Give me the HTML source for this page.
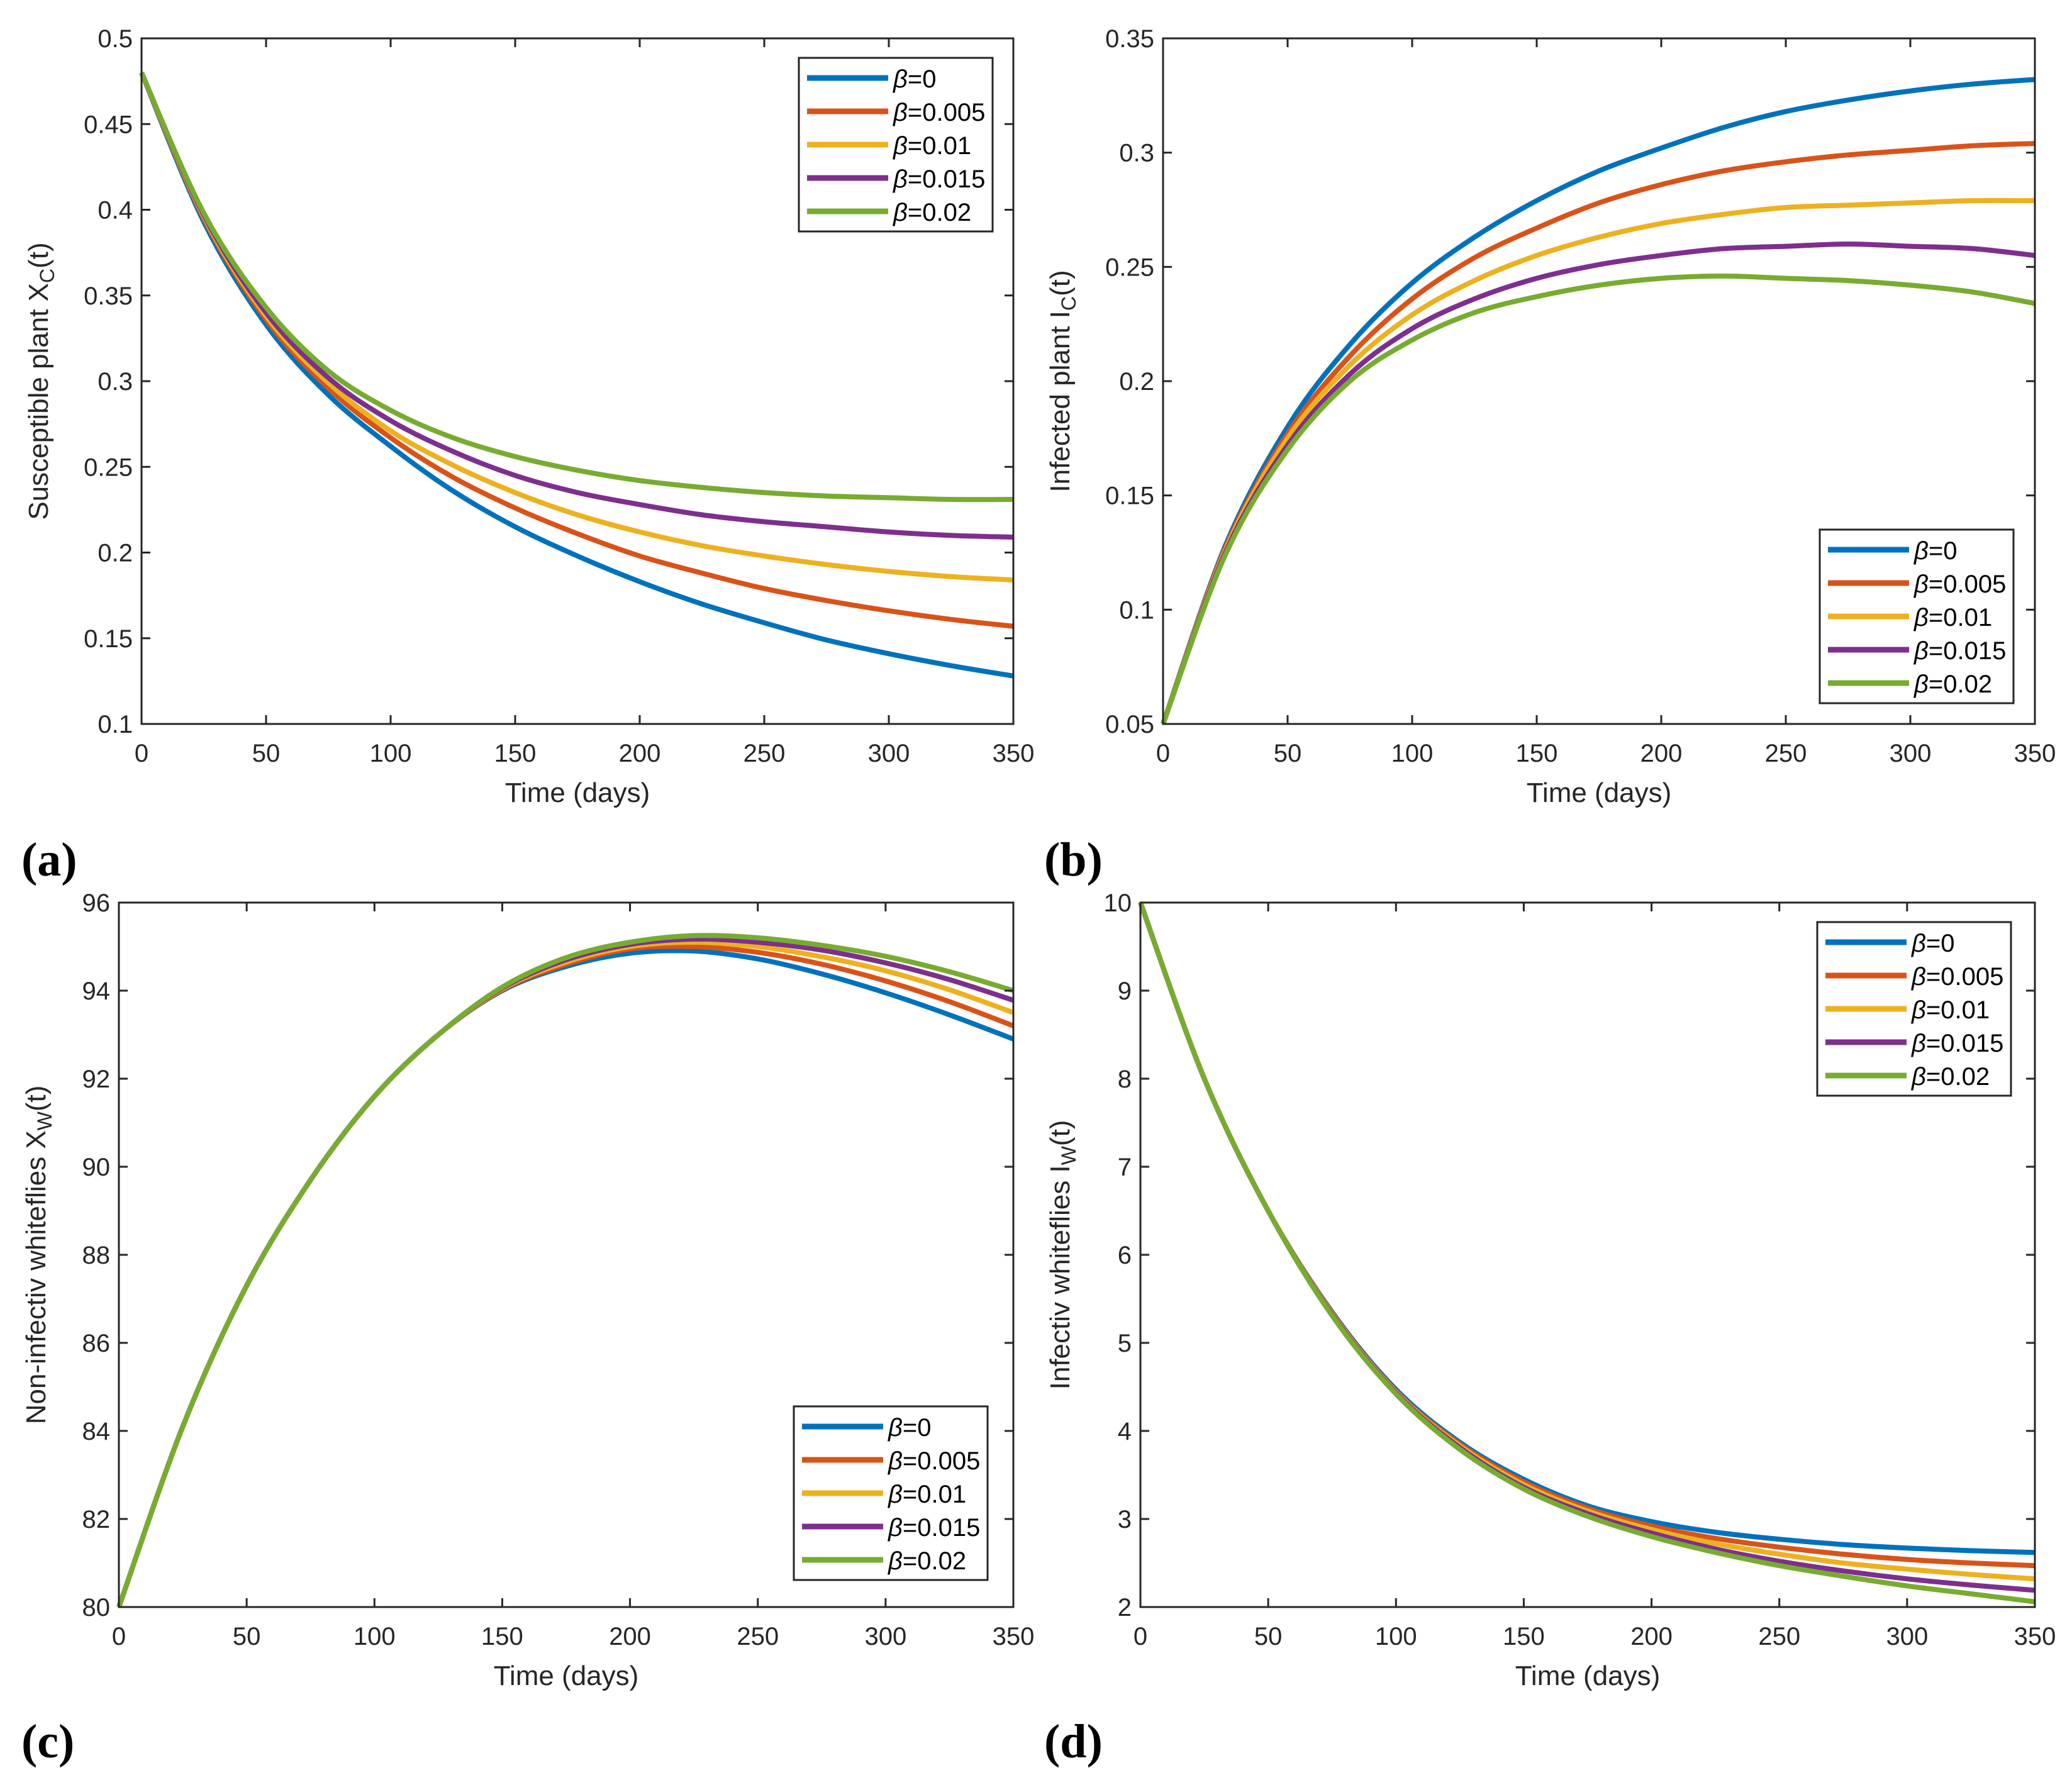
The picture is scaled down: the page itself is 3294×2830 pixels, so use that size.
<!DOCTYPE html>
<html><head><meta charset="utf-8"><style>
html,body{margin:0;padding:0;background:#fff;}
svg{display:block;font-family:"Liberation Sans",sans-serif;}
</style></head><body>
<svg id="fig" width="3294" height="2830" viewBox="0 0 3294 2830" xmlns="http://www.w3.org/2000/svg"></svg>
<script>
const days = [0,25,50,75,100,125,150,175,200,225,250,275,300,325,350];
const betaLabels = ["0","0.005","0.01","0.015","0.02"];
const colors = ["#0072BD","#D95319","#EDB120","#7E2F8E","#77AC30"];

const xcBlue   = [.48,.393,.333,.292,.262,.236,.215,.198,.183,.170,.159,.149,.141,.134,.128];
const xcOrange = [.48,.395,.336,.296,.267,.244,.226,.211,.198,.188,.179,.172,.166,.161,.157];
const xcYellow = [.48,.396,.338,.299,.271,.251,.235,.222,.212,.204,.198,.193,.189,.186,.184];
const xcPurple = [.48,.397,.34,.302,.277,.259,.245,.235,.228,.222,.218,.215,.212,.21,.209];
const xcGreen  = [.48,.398,.343,.306,.283,.267,.256,.248,.242,.238,.235,.233,.232,.231,.231];

const icBlue   = [.05,.128,.18,.216,.243,.263,.279,.292,.302,.311,.318,.323,.327,.33,.332];
const icOrange = [.05,.127,.177,.211,.236,.254,.267,.278,.286,.292,.296,.299,.301,.303,.304];
const icYellow = [.05,.126,.175,.207,.229,.244,.255,.263,.269,.273,.276,.277,.278,.279,.279];
const icPurple = [.05,.125,.172,.203,.223,.236,.245,.251,.255,.258,.259,.26,.259,.258,.255];
const icGreen  = [.05,.124,.17,.2,.218,.23,.237,.242,.245,.246,.245,.244,.242,.239,.234];

const xwBlue   = [80,84.1,87.3,89.7,91.6,93.0,94.0,94.55,94.85,94.9,94.72,94.38,93.95,93.45,92.9];
const xwOrange = [80,84.1,87.3,89.7,91.6,93.0,94.02,94.6,94.95,95.0,94.87,94.6,94.22,93.75,93.2];
const xwYellow = [80,84.1,87.3,89.7,91.6,93.0,94.04,94.65,95.0,95.1,95.0,94.77,94.45,94.02,93.5];
const xwPurple = [80,84.1,87.3,89.7,91.6,93.0,94.06,94.7,95.05,95.17,95.1,94.92,94.63,94.25,93.78];
const xwGreen  = [80,84.1,87.3,89.7,91.6,93.0,94.08,94.75,95.1,95.25,95.2,95.03,94.78,94.43,94.0];

const iwBlue   = [10,8.0,6.5,5.35,4.47,3.87,3.45,3.15,2.97,2.85,2.77,2.71,2.67,2.64,2.62];
const iwOrange = [10,8.0,6.5,5.34,4.45,3.85,3.42,3.12,2.92,2.78,2.68,2.6,2.54,2.5,2.47];
const iwYellow = [10,8.0,6.5,5.33,4.44,3.83,3.39,3.09,2.88,2.72,2.6,2.5,2.43,2.37,2.32];
const iwPurple = [10,8.0,6.5,5.32,4.43,3.81,3.36,3.06,2.84,2.66,2.52,2.41,2.32,2.25,2.19];
const iwGreen  = [10,8.0,6.5,5.31,4.42,3.79,3.34,3.03,2.8,2.62,2.47,2.35,2.24,2.15,2.06];

const xTicks = [0,50,100,150,200,250,300,350];
const yTicksA = [0.1,0.15,0.2,0.25,0.3,0.35,0.4,0.45,0.5];
const yTickLabelsA = ["0.1","0.15","0.2","0.25","0.3","0.35","0.4","0.45","0.5"];
const yTicksB = [0.05,0.1,0.15,0.2,0.25,0.3,0.35];
const yTickLabelsB = ["0.05","0.1","0.15","0.2","0.25","0.3","0.35"];
const yTicksC = [80,82,84,86,88,90,92,94,96];
const yTickLabelsC = ["80","82","84","86","88","90","92","94","96"];
const yTicksD = [2,3,4,5,6,7,8,9,10];
const yTickLabelsD = ["2","3","4","5","6","7","8","9","10"];

const NS="http://www.w3.org/2000/svg";
const svg=document.getElementById('fig');
function mk(tag,attrs,parent){const e=document.createElementNS(NS,tag);for(const k in attrs)e.setAttribute(k,attrs[k]);(parent||svg).appendChild(e);return e;}

function smoothPath(pts){
  let d="M"+pts[0][0].toFixed(1)+","+pts[0][1].toFixed(1);
  for(let i=0;i<pts.length-1;i++){
    const p0=pts[Math.max(0,i-1)],p1=pts[i],p2=pts[i+1],p3=pts[Math.min(pts.length-1,i+2)];
    const c1x=p1[0]+(p2[0]-p0[0])/6,c1y=p1[1]+(p2[1]-p0[1])/6;
    const c2x=p2[0]-(p3[0]-p1[0])/6,c2y=p2[1]-(p3[1]-p1[1])/6;
    d+=` C${c1x.toFixed(1)},${c1y.toFixed(1)} ${c2x.toFixed(1)},${c2y.toFixed(1)} ${p2[0].toFixed(1)},${p2[1].toFixed(1)}`;
  }
  return d;
}

function panel(cfg){
  const g=mk('g',{});
  
  
  const {L,R,T,B,ymin,ymax}=cfg;
  const sx=v=>L+(v-0)/(350-0)*(R-L);
  const sy=v=>B-(v-ymin)/(ymax-ymin)*(B-T);
  cfg.series.forEach((s,i)=>{
    const pts=days.map((d,j)=>[sx(d),sy(s[j])]);
    const p=mk('path',{d:smoothPath(pts),fill:'none',stroke:colors[i],'stroke-width':8,'stroke-linejoin':'round'},g);
    
    
  });
  const fr=mk('rect',{x:L,y:T,width:R-L,height:B-T,fill:'none',stroke:'#262626','stroke-width':3},g);
  
  
  const tl=14;
  xTicks.forEach(t=>{
    const x=sx(t);
    mk('line',{x1:x,y1:B,x2:x,y2:B-tl,stroke:'#262626','stroke-width':3},g);
    mk('line',{x1:x,y1:T,x2:x,y2:T+tl,stroke:'#262626','stroke-width':3},g);
    const tx=mk('text',{x:x,y:B+60,'text-anchor':'middle','font-size':40,fill:'#262626'},g);
    tx.textContent=t;
    
    
  });
  cfg.yTicks.forEach((t,i)=>{
    const y=sy(t);
    mk('line',{x1:L,y1:y,x2:L+tl,y2:y,stroke:'#262626','stroke-width':3},g);
    mk('line',{x1:R,y1:y,x2:R-tl,y2:y,stroke:'#262626','stroke-width':3},g);
    const ty=mk('text',{x:L-14,y:y+14,'text-anchor':'end','font-size':40,fill:'#262626'},g);
    ty.textContent=cfg.yLabels[i];
    
    
  });
  const xl=mk('text',{x:(L+R)/2,y:B+124,'text-anchor':'middle','font-size':44,fill:'#262626'},g);
  xl.textContent='Time (days)';
  
  
  const yl=mk('text',{x:0,y:0,'text-anchor':'middle','font-size':44,fill:'#262626',transform:`translate(${cfg.ylx},${(T+B)/2}) rotate(-90)`},g);
  
  
  const a=mk('tspan',{},yl);a.textContent=cfg.yt[0];
  const b=mk('tspan',{dy:10,'font-size':32},yl);b.textContent=cfg.yt[1];
  const c=mk('tspan',{dy:-10},yl);c.textContent='(t)';
  const pl=mk('text',{x:cfg.plx,y:cfg.ply,'font-size':76,'font-weight':'bold','font-family':'"Liberation Serif",serif',fill:'#000'},g);
  pl.textContent=cfg.letter;
  
  
  const lg=mk('g',{},g);
  
  
  const [lx,ly]=cfg.leg;
  mk('rect',{x:lx,y:ly,width:308,height:276,fill:'#fff',stroke:'#262626','stroke-width':3},lg);
  betaLabels.forEach((bl,i)=>{
    const y=ly+32+i*53;
    const e=mk('g',{},lg);
    
    
    mk('line',{x1:lx+13,y1:y,x2:lx+142,y2:y,stroke:colors[i],'stroke-width':9},e);
    const t=mk('text',{x:lx+150,y:y+15,'font-size':40,fill:'#000'},e);
    const t1=mk('tspan',{'font-style':'italic'},t);t1.textContent='β';
    const t2=mk('tspan',{},t);t2.textContent='='+bl;
  });
}

panel({name:'panel-a-susceptible-plant',L:225,R:1611,T:61,B:1151,ymin:0.1,ymax:0.5,yTicks:yTicksA,yLabels:yTickLabelsA,
  series:[xcBlue,xcOrange,xcYellow,xcPurple,xcGreen],ylx:76,yt:['Susceptible plant X','C'],letter:'(a)',plx:34,ply:1392,leg:[1270,92]});
panel({name:'panel-b-infected-plant',L:1849,R:3235,T:61,B:1151,ymin:0.05,ymax:0.35,yTicks:yTicksB,yLabels:yTickLabelsB,
  series:[icBlue,icOrange,icYellow,icPurple,icGreen],ylx:1700,yt:['Infected plant I','C'],letter:'(b)',plx:1660,ply:1392,leg:[2893,842]});
panel({name:'panel-c-non-infective-whiteflies',L:189,R:1611,T:1435,B:2555,ymin:80,ymax:96,yTicks:yTicksC,yLabels:yTickLabelsC,
  series:[xwBlue,xwOrange,xwYellow,xwPurple,xwGreen],ylx:72,yt:['Non-infectiv whiteflies X','W'],letter:'(c)',plx:34,ply:2794,leg:[1262,2236]});
panel({name:'panel-d-infective-whiteflies',L:1813,R:3235,T:1435,B:2555,ymin:2,ymax:10,yTicks:yTicksD,yLabels:yTickLabelsD,
  series:[iwBlue,iwOrange,iwYellow,iwPurple,iwGreen],ylx:1700,yt:['Infectiv whiteflies I','W'],letter:'(d)',plx:1660,ply:2794,leg:[2889,1466]});
</script>
</body></html>
